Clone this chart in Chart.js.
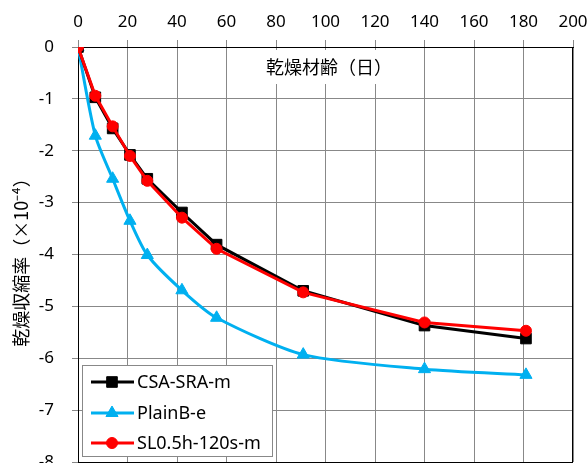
<!DOCTYPE html>
<html>
<head>
<meta charset="utf-8">
<script src="https://cdn.jsdelivr.net/npm/chart.js@4"></script>
<style>
  html, body { margin: 0; padding: 0; overflow: hidden; background: #fff; }
  canvas { display: block; }
</style>
</head>
<body>
<canvas id="myChart" width="587" height="490"></canvas>
<script>
// drying age (days) and drying shrinkage (x10^-4)
const days = [0, 7, 14, 21, 28, 42, 56, 91, 140, 181];
const csaSraM = [0, -0.97, -1.57, -2.08, -2.54, -3.19, -3.81, -4.70, -5.37, -5.62];
const plainBE = [0, -1.71, -2.54, -3.35, -4.01, -4.69, -5.22, -5.93, -6.21, -6.32];
const sl05hM = [0, -0.94, -1.53, -2.10, -2.58, -3.29, -3.89, -4.73, -5.31, -5.47];

const seriesNames = ['CSA-SRA-m', 'PlainB-e', 'SL0.5h-120s-m'];
const xTitle = '乾燥材齢（日）';
const yTitle = '乾燥収縮率（×10⁻⁴）';

function toPoints(vals) {
    return days.map((d, i) => ({ x: d, y: vals[i] }));
}

// border, axis titles and the legend box
const decor = {
    id: 'decor',
    beforeDatasetsDraw(chart) {
        const c = chart.ctx;
        const a = chart.chartArea;
        c.save();
        // white patch behind the x title
        c.fillStyle = '#fff';
        c.fillRect(263, 50, 130, 34);
        c.strokeStyle = '#000';
        c.lineWidth = 1;
        c.strokeRect(Math.round(a.left) + 0.5, Math.round(a.top) + 0.5,
            Math.round(a.right - a.left) - 1, Math.round(a.bottom - a.top));
        c.fillStyle = '#000';
        c.font = '18px "Noto Sans CJK JP"';
        c.textAlign = 'center';
        c.textBaseline = 'middle';
        c.fillText(xTitle, 329, 67);
        c.translate(21, 258);
        c.rotate(-Math.PI / 2);
        c.fillText(yTitle, 0, 0);
        c.restore();
    },
    afterDatasetsDraw(chart) {
        const c = chart.ctx;
        c.save();
        c.fillStyle = '#fff';
        c.fillRect(82, 365, 191, 92);
        c.strokeStyle = '#888';
        c.lineWidth = 1;
        c.strokeRect(82.5, 365.5, 190, 91);
        const rows = [382, 413, 443];
        chart.data.datasets.forEach((ds, i) => {
            const y = rows[i];
            c.strokeStyle = ds.borderColor;
            c.lineWidth = ds.borderWidth;
            c.beginPath();
            c.moveTo(91, y);
            c.lineTo(134, y);
            c.stroke();
            c.fillStyle = ds.pointBackgroundColor;
            c.strokeStyle = ds.borderColor;
            c.lineWidth = 1;
            Chart.helpers.drawPoint(c, { pointStyle: ds.pointStyle, radius: ds.pointRadius, rotation: 0, borderWidth: 1 }, 112, y);
            c.fillStyle = '#000';
            c.font = '18px "Noto Sans"';
            c.textAlign = 'left';
            c.textBaseline = 'middle';
            c.fillText(ds.label, 137, y + 1);
        });
        c.restore();
    }
};

const ctx = document.getElementById('myChart');

new Chart(ctx, {
    type: 'line',
    data: {
        datasets: [{
            label: seriesNames[0],
            data: toPoints(csaSraM),
            borderColor: '#000000',
            pointBackgroundColor: '#000000',
            borderWidth: 3,
            pointStyle: 'rect',
            pointRadius: 7.5,
            pointBorderWidth: 1,
            tension: 0,
            order: 1
        }, {
            label: seriesNames[1],
            data: toPoints(plainBE),
            borderColor: '#00B0F0',
            pointBackgroundColor: '#00B0F0',
            borderWidth: 3,
            pointStyle: 'triangle',
            pointRadius: 7,
            pointBorderWidth: 1,
            tension: 0.25,
            order: 2
        }, {
            label: seriesNames[2],
            data: toPoints(sl05hM),
            borderColor: '#FF0000',
            pointBackgroundColor: '#FF0000',
            borderWidth: 3,
            pointStyle: 'circle',
            pointRadius: 5.5,
            pointBorderWidth: 1,
            tension: 0,
            order: 0
        }]
    },
    options: {
        responsive: false,
        animation: false,
        layout: {
            autoPadding: false,
            padding: { left: 0, top: 0, right: 14, bottom: 28 }
        },
        plugins: {
            legend: { display: false },
            tooltip: { enabled: false }
        },
        scales: {
            x: {
                type: 'linear',
                position: 'top',
                min: 0,
                max: 200,
                ticks: {
                    stepSize: 20,
                    color: '#000',
                    padding: 8,
                    maxRotation: 0,
                    font: { family: 'Noto Sans', size: 17 }
                },
                grid: { color: '#888', tickLength: 7 },
                border: { color: '#000' },
                afterFit: s => {
                    s.height = 47;
                    s.paddingLeft = 0;
                    s.paddingRight = 0;
                }
            },
            y: {
                type: 'linear',
                min: -8,
                max: 0,
                ticks: {
                    stepSize: 1,
                    color: '#000',
                    padding: 18,
                    font: { family: 'Noto Sans', size: 17 }
                },
                grid: { color: '#888', tickLength: 6 },
                border: { color: '#000' },
                afterFit: s => {
                    s.width = 78;
                    s.paddingTop = 0;
                    s.paddingBottom = 0;
                }
            }
        }
    },
    plugins: [decor]
});
</script>
</body>
</html>
